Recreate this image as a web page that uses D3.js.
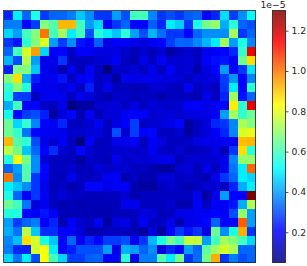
<!DOCTYPE html>
<html>
<head>
<meta charset="utf-8">
<script src="https://d3js.org/d3.v7.min.js"></script>
<style>
html, body { margin: 0; padding: 0; background: #fff; overflow: hidden; }
svg { display: block; }
</style>
</head>
<body>
<div id="chart"></div>
<script>
// values in units of 1e-5, one inner array per image row
const cell_values = [
    [.25,.5,.33,.55,.28,.33,.33,.36,.45,.38,.27,.27,.4,.3,.6,.6,.37,.27,.3,.27,.32,.33,.21,.25,.48,.28,.38,.52],
    [.36,.36,.21,.28,.68,.62,.92,.92,.6,.4,.47,.2,.27,.33,.21,.21,.32,.25,.5,.46,.27,.55,.66,.7,.42,.57,.33,.3],
    [.47,.4,.6,.68,1.0,.6,.72,.5,.6,.3,.57,.5,.45,.57,.4,.3,.43,.34,.27,.27,.21,.33,.38,.38,.38,.72,.27,.33],
    [.27,.23,.57,.68,.8,.4,.28,.38,.23,.21,.32,.17,.2,.19,.18,.16,.19,.21,.28,.33,.33,.37,.43,.5,.72,.4,.55,.37],
    [.33,.6,.78,.95,.47,.2,.21,.14,.2,.2,.17,.17,.17,.14,.12,.15,.12,.16,.09,.13,.15,.13,.18,.2,.21,.25,.58,1.16],
    [.43,.3,.74,.4,.18,.18,.27,.13,.13,.13,.15,.16,.19,.13,.11,.18,.13,.19,.15,.15,.16,.13,.2,.22,.23,.2,.65,.87],
    [.24,.67,.68,.45,.19,.17,.11,.18,.12,.19,.13,.05,.14,.14,.16,.13,.18,.13,.2,.15,.16,.11,.17,.21,.4,.2,.27,.48],
    [.68,.87,.42,.24,.18,.19,.23,.13,.2,.21,.13,.15,.09,.18,.18,.18,.18,.17,.17,.16,.13,.16,.16,.17,.28,.39,.2,.37],
    [.58,.68,.56,.19,.18,.18,.16,.19,.13,.24,.13,.18,.13,.13,.12,.12,.15,.15,.13,.12,.2,.13,.15,.12,.27,.5,.2,.57],
    [.55,.28,.28,.13,.18,.19,.18,.13,.18,.16,.13,.11,.14,.14,.12,.13,.13,.11,.13,.13,.12,.11,.18,.13,.25,.72,.23,.33],
    [.42,.6,.2,.21,.14,.12,.18,.05,.09,.09,.15,.15,.16,.13,.17,.13,.16,.15,.14,.15,.2,.2,.18,.19,.21,.85,.57,1.17],
    [.54,.21,.28,.3,.24,.09,.16,.21,.11,.19,.12,.16,.16,.19,.2,.2,.15,.16,.16,.14,.17,.17,.17,.19,.4,.72,.58,.65],
    [.65,.47,.58,.37,.21,.19,.25,.13,.13,.15,.19,.13,.17,.2,.28,.13,.15,.16,.18,.21,.09,.13,.16,.25,.27,.37,.73,.68],
    [.65,.58,.35,.21,.19,.19,.18,.14,.14,.16,.17,.13,.3,.15,.28,.2,.21,.13,.13,.15,.09,.13,.16,.2,.25,.37,.78,.8],
    [.92,.62,.57,.3,.18,.15,.2,.13,.05,.2,.13,.13,.18,.18,.2,.12,.2,.17,.13,.13,.14,.17,.18,.18,.19,.19,.91,.92],
    [.75,.66,.45,.33,.21,.26,.15,.13,.21,.15,.13,.13,.15,.15,.14,.14,.19,.14,.13,.15,.12,.13,.14,.17,.12,.27,.87,.57],
    [.55,.82,.66,.38,.16,.13,.13,.13,.09,.14,.13,.12,.18,.14,.15,.15,.16,.18,.18,.12,.15,.15,.15,.15,.18,.37,.7,.7],
    [.33,.4,.62,.38,.21,.13,.13,.15,.12,.13,.16,.14,.15,.15,.13,.13,.11,.09,.09,.15,.16,.12,.18,.13,.18,.35,.5,1.02],
    [1.0,.38,.62,.27,.2,.13,.12,.18,.13,.13,.14,.19,.2,.11,.13,.11,.11,.16,.16,.13,.14,.13,.11,.18,.27,.33,.5,.47],
    [.5,.45,.38,.27,.18,.12,.14,.11,.13,.21,.21,.18,.19,.2,.11,.09,.09,.13,.15,.13,.11,.13,.15,.15,.13,.25,.42,.5],
    [.55,.33,.2,.27,.19,.13,.16,.13,.13,.12,.12,.13,.13,.15,.11,.13,.13,.13,.13,.13,.13,.18,.09,.18,.4,.21,.2,1.3],
    [.65,.6,.35,.16,.19,.13,.11,.12,.11,.12,.12,.12,.12,.18,.19,.13,.13,.13,.15,.11,.11,.2,.13,.2,.2,.23,.42,.73],
    [.56,.56,.21,.2,.23,.19,.12,.12,.12,.12,.11,.11,.13,.12,.13,.17,.16,.12,.13,.18,.18,.19,.19,.21,.19,.3,.7,.4],
    [.4,.28,.33,.36,.2,.25,.11,.2,.15,.13,.19,.09,.16,.18,.12,.19,.13,.13,.18,.11,.18,.18,.21,.33,.21,.21,1.03,.4],
    [.42,.35,.75,.45,.26,.26,.2,.2,.16,.11,.11,.13,.13,.13,.12,.09,.17,.09,.21,.27,.23,.27,.17,.65,.38,.55,.93,.27],
    [.37,.44,.87,.78,.55,.45,.21,.33,.19,.25,.21,.28,.28,.3,.19,.27,.43,.55,.66,.6,.76,.76,.4,.6,.72,.68,.6,.47],
    [.36,.25,.25,.78,.82,.5,.21,.24,.3,.3,.3,.4,.18,.42,.4,.33,.38,.17,.25,.21,.4,.33,.63,.72,.78,.73,.33,.33],
    [.47,.35,.5,.3,.83,.6,.47,.28,.28,.32,.33,.2,.21,.57,.18,.36,.36,.62,.5,.66,.27,.34,.66,.93,.27,.36,.3,.33]
];
const bar_ticks = [0.2, 0.4, 0.6, 0.8, 1.0, 1.2];
const bar_domain = [0.05, 1.3];
const offset_label = "1e\u22125";

const width = 307;
const height = 266;
const map_box = {left: 3.5, right: 255.5, top: 10.5, bottom: 262.5};
const bar_box = {left: 272.5, right: 285.5};

// matplotlib's jet, piecewise
function jet(t) {
    const ramp = function (v) {
        return Math.max(0, Math.min(1, v));
    };
    const r = ramp(1.5 - Math.abs(4 * t - 3));
    const g = ramp(1.5 - Math.abs(4 * t - 2));
    const b = ramp(1.5 - Math.abs(4 * t - 1));
    return d3.rgb(r * 255, g * 255, b * 255).formatHex();
}

const color_scale = d3.scaleSequential(jet).domain(bar_domain).clamp(true);

const svg = d3.select("#chart")
    .append("svg")
    .attr("width", width)
    .attr("height", height);

const x_scale = d3.scaleBand()
    .domain(d3.range(cell_values[0].length))
    .range([map_box.left, map_box.right]);

const y_scale = d3.scaleBand()
    .domain(d3.range(cell_values.length))
    .range([map_box.top, map_box.bottom]);

const rows = svg.append("g")
    .selectAll("g")
    .data(cell_values)
    .enter()
    .append("g")
    .attr("transform", function (d, i) {
        return "translate(0," + y_scale(i) + ")";
    });

rows.selectAll("rect")
    .data(function (d) {
        return d;
    })
    .enter()
    .append("rect")
    .attr("x", function (d, i) {
        return x_scale(i);
    })
    .attr("width", x_scale.bandwidth())
    .attr("height", y_scale.bandwidth())
    .attr("shape-rendering", "crispEdges")
    .attr("fill", function (d) {
        return color_scale(d);
    });

svg.append("rect")
    .attr("x", map_box.left)
    .attr("y", map_box.top)
    .attr("width", map_box.right - map_box.left)
    .attr("height", map_box.bottom - map_box.top)
    .attr("fill", "none")
    .attr("stroke", "#222")
    .attr("stroke-width", 0.8);

// colour bar
const bar_scale = d3.scaleLinear()
    .domain(bar_domain)
    .range([map_box.bottom, map_box.top]);

const bar_steps = d3.range(map_box.top, map_box.bottom, 1);

svg.append("g")
    .selectAll("rect")
    .data(bar_steps)
    .enter()
    .append("rect")
    .attr("x", bar_box.left)
    .attr("y", function (d) {
        return d;
    })
    .attr("width", bar_box.right - bar_box.left)
    .attr("height", 1.2)
    .attr("fill", function (d) {
        return color_scale(bar_scale.invert(d + 0.5));
    });

svg.append("rect")
    .attr("x", bar_box.left)
    .attr("y", map_box.top)
    .attr("width", bar_box.right - bar_box.left)
    .attr("height", map_box.bottom - map_box.top)
    .attr("fill", "none")
    .attr("stroke", "#222")
    .attr("stroke-width", 0.8);

const bar_axis = d3.axisRight(bar_scale)
    .tickValues(bar_ticks)
    .tickSize(3)
    .tickPadding(3)
    .tickFormat(d3.format(".1f"));

const axis_g = svg.append("g")
    .attr("transform", "translate(" + bar_box.right + ",0)")
    .call(bar_axis);

axis_g.select(".domain").remove();
axis_g.selectAll("line").attr("stroke", "#222").attr("stroke-width", 0.8);
axis_g.selectAll("text")
    .attr("font-family", "DejaVu Sans")
    .attr("font-size", "9.2px")
    .attr("fill", "#222");

svg.append("text")
    .attr("x", bar_box.right)
    .attr("y", 7.5)
    .attr("text-anchor", "end")
    .attr("font-family", "DejaVu Sans")
    .attr("font-size", "9.2px")
    .attr("fill", "#222")
    .text(offset_label);
</script>
</body>
</html>
